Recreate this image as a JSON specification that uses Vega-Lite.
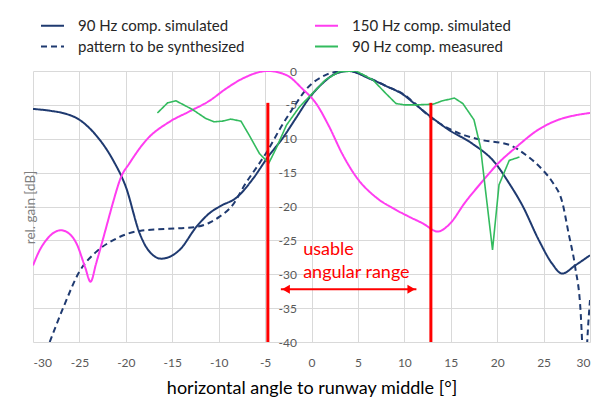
{
  "$schema": "https://vega.github.io/schema/vega-lite/v6.json",
  "width": 557,
  "height": 271,
  "autosize": "none",
  "padding": {"left": 33, "top": 71, "right": 13, "bottom": 58},
  "background": "white",
  "config": {
    "view": {"stroke": null},
    "font": "Lato"
  },
  "datasets": {
    "curves": [
      {"series": "90 Hz comp. simulated", "x": -30, "y": -5.6},
      {"series": "90 Hz comp. simulated", "x": -28, "y": -5.9},
      {"series": "90 Hz comp. simulated", "x": -26.8, "y": -6.2},
      {"series": "90 Hz comp. simulated", "x": -25, "y": -7.2},
      {"series": "90 Hz comp. simulated", "x": -23.2, "y": -9.5},
      {"series": "90 Hz comp. simulated", "x": -21.4, "y": -13.1},
      {"series": "90 Hz comp. simulated", "x": -20, "y": -17.1},
      {"series": "90 Hz comp. simulated", "x": -18.5, "y": -24},
      {"series": "90 Hz comp. simulated", "x": -17.8, "y": -26},
      {"series": "90 Hz comp. simulated", "x": -16.2, "y": -27.7},
      {"series": "90 Hz comp. simulated", "x": -14.2, "y": -26.4},
      {"series": "90 Hz comp. simulated", "x": -12.4, "y": -23},
      {"series": "90 Hz comp. simulated", "x": -11, "y": -21},
      {"series": "90 Hz comp. simulated", "x": -9.9, "y": -20},
      {"series": "90 Hz comp. simulated", "x": -8, "y": -18.6},
      {"series": "90 Hz comp. simulated", "x": -6.3, "y": -15.9},
      {"series": "90 Hz comp. simulated", "x": -4.7, "y": -12.7},
      {"series": "90 Hz comp. simulated", "x": -3.1, "y": -9.9},
      {"series": "90 Hz comp. simulated", "x": -1.7, "y": -7},
      {"series": "90 Hz comp. simulated", "x": -0.25, "y": -4},
      {"series": "90 Hz comp. simulated", "x": 1.2, "y": -1.8},
      {"series": "90 Hz comp. simulated", "x": 2.6, "y": -0.4},
      {"series": "90 Hz comp. simulated", "x": 4, "y": 0},
      {"series": "90 Hz comp. simulated", "x": 6.2, "y": -1.1},
      {"series": "90 Hz comp. simulated", "x": 8, "y": -2.2},
      {"series": "90 Hz comp. simulated", "x": 10, "y": -3.6},
      {"series": "90 Hz comp. simulated", "x": 10.9, "y": -4.6},
      {"series": "90 Hz comp. simulated", "x": 12.8, "y": -6.7},
      {"series": "90 Hz comp. simulated", "x": 14.8, "y": -8.7},
      {"series": "90 Hz comp. simulated", "x": 17.3, "y": -10.7},
      {"series": "90 Hz comp. simulated", "x": 19.8, "y": -13.6},
      {"series": "90 Hz comp. simulated", "x": 21.3, "y": -16.6},
      {"series": "90 Hz comp. simulated", "x": 22.7, "y": -19.8},
      {"series": "90 Hz comp. simulated", "x": 24.5, "y": -25},
      {"series": "90 Hz comp. simulated", "x": 25.9, "y": -28.4},
      {"series": "90 Hz comp. simulated", "x": 27, "y": -29.9},
      {"series": "90 Hz comp. simulated", "x": 28.4, "y": -28.7},
      {"series": "90 Hz comp. simulated", "x": 30, "y": -27.2},

      {"series": "pattern to be synthesized", "x": -28.2, "y": -40},
      {"series": "pattern to be synthesized", "x": -26.7, "y": -34.8},
      {"series": "pattern to be synthesized", "x": -25, "y": -29.6},
      {"series": "pattern to be synthesized", "x": -23.2, "y": -26.7},
      {"series": "pattern to be synthesized", "x": -21.4, "y": -25},
      {"series": "pattern to be synthesized", "x": -18.5, "y": -23.6},
      {"series": "pattern to be synthesized", "x": -14.2, "y": -23.2},
      {"series": "pattern to be synthesized", "x": -12.4, "y": -23},
      {"series": "pattern to be synthesized", "x": -11, "y": -22.4},
      {"series": "pattern to be synthesized", "x": -9.9, "y": -21.5},
      {"series": "pattern to be synthesized", "x": -8.5, "y": -19.8},
      {"series": "pattern to be synthesized", "x": -7.1, "y": -16.6},
      {"series": "pattern to be synthesized", "x": -5.6, "y": -13.6},
      {"series": "pattern to be synthesized", "x": -4.7, "y": -11.7},
      {"series": "pattern to be synthesized", "x": -3.3, "y": -8.3},
      {"series": "pattern to be synthesized", "x": -2, "y": -5.5},
      {"series": "pattern to be synthesized", "x": -0.5, "y": -2.6},
      {"series": "pattern to be synthesized", "x": 1.5, "y": -0.6},
      {"series": "pattern to be synthesized", "x": 2.8, "y": -0.1},
      {"series": "pattern to be synthesized", "x": 4, "y": 0},
      {"series": "pattern to be synthesized", "x": 6.2, "y": -1},
      {"series": "pattern to be synthesized", "x": 8, "y": -2.2},
      {"series": "pattern to be synthesized", "x": 10, "y": -3.5},
      {"series": "pattern to be synthesized", "x": 11, "y": -4.6},
      {"series": "pattern to be synthesized", "x": 12.8, "y": -6.8},
      {"series": "pattern to be synthesized", "x": 14.8, "y": -8.5},
      {"series": "pattern to be synthesized", "x": 16.5, "y": -9.5},
      {"series": "pattern to be synthesized", "x": 18.4, "y": -10.2},
      {"series": "pattern to be synthesized", "x": 21.3, "y": -10.9},
      {"series": "pattern to be synthesized", "x": 23.1, "y": -12.4},
      {"series": "pattern to be synthesized", "x": 24.9, "y": -14.6},
      {"series": "pattern to be synthesized", "x": 26, "y": -16.5},
      {"series": "pattern to be synthesized", "x": 27, "y": -19.3},
      {"series": "pattern to be synthesized", "x": 27.7, "y": -24},
      {"series": "pattern to be synthesized", "x": 28.4, "y": -28.9},
      {"series": "pattern to be synthesized", "x": 29, "y": -35.8},
      {"series": "pattern to be synthesized", "x": 29.15, "y": -40},
      {"series": "pattern to be synthesized", "x": 29.4, "y": -50},
      {"series": "pattern to be synthesized", "x": 29.7, "y": -40},
      {"series": "pattern to be synthesized", "x": 30, "y": -33.8},

      {"series": "150 Hz comp. simulated", "x": -30, "y": -28.7},
      {"series": "150 Hz comp. simulated", "x": -29.3, "y": -26.5},
      {"series": "150 Hz comp. simulated", "x": -28.6, "y": -25},
      {"series": "150 Hz comp. simulated", "x": -27.8, "y": -23.9},
      {"series": "150 Hz comp. simulated", "x": -27, "y": -23.5},
      {"series": "150 Hz comp. simulated", "x": -26.2, "y": -23.9},
      {"series": "150 Hz comp. simulated", "x": -25.3, "y": -25.5},
      {"series": "150 Hz comp. simulated", "x": -24.4, "y": -28.9},
      {"series": "150 Hz comp. simulated", "x": -23.8, "y": -31.1},
      {"series": "150 Hz comp. simulated", "x": -23.2, "y": -28.4},
      {"series": "150 Hz comp. simulated", "x": -22.6, "y": -25.5},
      {"series": "150 Hz comp. simulated", "x": -21.9, "y": -22},
      {"series": "150 Hz comp. simulated", "x": -21.4, "y": -19.5},
      {"series": "150 Hz comp. simulated", "x": -20.5, "y": -15.6},
      {"series": "150 Hz comp. simulated", "x": -19.6, "y": -13.6},
      {"series": "150 Hz comp. simulated", "x": -17.8, "y": -10.2},
      {"series": "150 Hz comp. simulated", "x": -15.3, "y": -7.5},
      {"series": "150 Hz comp. simulated", "x": -13.2, "y": -6},
      {"series": "150 Hz comp. simulated", "x": -11, "y": -4.4},
      {"series": "150 Hz comp. simulated", "x": -9.2, "y": -2.6},
      {"series": "150 Hz comp. simulated", "x": -7.4, "y": -1.1},
      {"series": "150 Hz comp. simulated", "x": -4.7, "y": 0},
      {"series": "150 Hz comp. simulated", "x": -2.7, "y": -0.6},
      {"series": "150 Hz comp. simulated", "x": -1, "y": -2.6},
      {"series": "150 Hz comp. simulated", "x": 0.5, "y": -4.8},
      {"series": "150 Hz comp. simulated", "x": 1.9, "y": -8.2},
      {"series": "150 Hz comp. simulated", "x": 3.3, "y": -12.2},
      {"series": "150 Hz comp. simulated", "x": 4.8, "y": -15.6},
      {"series": "150 Hz comp. simulated", "x": 6.9, "y": -18.6},
      {"series": "150 Hz comp. simulated", "x": 9.1, "y": -20.5},
      {"series": "150 Hz comp. simulated", "x": 10.5, "y": -21.5},
      {"series": "150 Hz comp. simulated", "x": 12, "y": -22.5},
      {"series": "150 Hz comp. simulated", "x": 13.6, "y": -23.7},
      {"series": "150 Hz comp. simulated", "x": 14.8, "y": -22.7},
      {"series": "150 Hz comp. simulated", "x": 16.6, "y": -19.3},
      {"series": "150 Hz comp. simulated", "x": 18.4, "y": -16.3},
      {"series": "150 Hz comp. simulated", "x": 20.2, "y": -13.5},
      {"series": "150 Hz comp. simulated", "x": 22, "y": -11.3},
      {"series": "150 Hz comp. simulated", "x": 24.5, "y": -8.6},
      {"series": "150 Hz comp. simulated", "x": 26.6, "y": -7.2},
      {"series": "150 Hz comp. simulated", "x": 28.2, "y": -6.6},
      {"series": "150 Hz comp. simulated", "x": 30, "y": -6.2},

      {"series": "90 Hz comp. measured", "x": -16.6, "y": -6.2},
      {"series": "90 Hz comp. measured", "x": -15.5, "y": -4.7},
      {"series": "90 Hz comp. measured", "x": -14.6, "y": -4.4},
      {"series": "90 Hz comp. measured", "x": -12.8, "y": -5.7},
      {"series": "90 Hz comp. measured", "x": -11.4, "y": -7},
      {"series": "90 Hz comp. measured", "x": -10.5, "y": -7.5},
      {"series": "90 Hz comp. measured", "x": -9.6, "y": -7.4},
      {"series": "90 Hz comp. measured", "x": -8.7, "y": -7.1},
      {"series": "90 Hz comp. measured", "x": -7.6, "y": -7.4},
      {"series": "90 Hz comp. measured", "x": -6.7, "y": -9.5},
      {"series": "90 Hz comp. measured", "x": -5.6, "y": -12.2},
      {"series": "90 Hz comp. measured", "x": -4.6, "y": -13.6},
      {"series": "90 Hz comp. measured", "x": -3.8, "y": -11.4},
      {"series": "90 Hz comp. measured", "x": -2.7, "y": -8},
      {"series": "90 Hz comp. measured", "x": -1.3, "y": -5.3},
      {"series": "90 Hz comp. measured", "x": 0.1, "y": -3.3},
      {"series": "90 Hz comp. measured", "x": 1.5, "y": -1.3},
      {"series": "90 Hz comp. measured", "x": 3, "y": -0.1},
      {"series": "90 Hz comp. measured", "x": 4.8, "y": 0},
      {"series": "90 Hz comp. measured", "x": 6.6, "y": -1.3},
      {"series": "90 Hz comp. measured", "x": 8, "y": -3.3},
      {"series": "90 Hz comp. measured", "x": 9.1, "y": -4.8},
      {"series": "90 Hz comp. measured", "x": 10, "y": -5},
      {"series": "90 Hz comp. measured", "x": 11.3, "y": -5},
      {"series": "90 Hz comp. measured", "x": 13.1, "y": -4.9},
      {"series": "90 Hz comp. measured", "x": 14.1, "y": -4.4},
      {"series": "90 Hz comp. measured", "x": 15.4, "y": -4},
      {"series": "90 Hz comp. measured", "x": 16.3, "y": -4.8},
      {"series": "90 Hz comp. measured", "x": 17.5, "y": -7.2},
      {"series": "90 Hz comp. measured", "x": 18.2, "y": -11.2},
      {"series": "90 Hz comp. measured", "x": 18.7, "y": -17.1},
      {"series": "90 Hz comp. measured", "x": 19.5, "y": -26.4},
      {"series": "90 Hz comp. measured", "x": 20.2, "y": -16.8},
      {"series": "90 Hz comp. measured", "x": 21.3, "y": -13.2},
      {"series": "90 Hz comp. measured", "x": 22.4, "y": -12.7}
    ],
    "limits": [
      {"angle": -4.7, "top": -4.7, "bottom": -40},
      {"angle": 12.86, "top": -4.7, "bottom": -40}
    ],
    "arrow": [{"from": -3.3, "to": 11.3, "level": -32.2}],
    "arrowLeft": [{"x": -2.75, "y": -32.2}],
    "arrowRight": [{"x": 10.75, "y": -32.2}],
    "notes": [
      {"x": -0.9, "y": -27.2, "text": "usable"},
      {"x": -0.9, "y": -30.5, "text": "angular range"}
    ]
  },
  "layer": [
    {
      "data": {"name": "curves"},
      "mark": {"type": "line", "interpolate": "monotone", "strokeWidth": 2, "clip": true},
      "transform": [{"filter": "datum.series != '90 Hz comp. measured'"}],
      "encoding": {
        "x": {
          "field": "x", "type": "quantitative",
          "scale": {"domain": [-30, 30], "nice": false},
          "axis": {
            "values": [-30, -25, -20, -15, -10, -5, 0, 5, 10, 15, 20, 25, 30],
            "tickCount": 20,
            "labelExpr": "'' + datum.value", "labelOverlap": false,
            "grid": true, "gridColor": "#D9D9D9", "gridWidth": 1,
            "domain": false, "ticks": false,
            "labelColor": "#595959", "labelFont": "Lato", "labelFontSize": 12, "labelPadding": 15,
            "title": "horizontal angle to runway middle [°]",
            "titleFont": "Lato", "titleFontSize": 18, "titleFontWeight": "normal", "titleColor": "#000000",
            "titlePadding": 11
          }
        },
        "y": {
          "field": "y", "type": "quantitative",
          "scale": {"domain": [-40, 0], "nice": false},
          "axis": {
            "orient": "left", "offset": -278.5,
            "values": [-40, -35, -30, -25, -20, -15, -10, -5, 0],
            "tickCount": 20,
            "labelExpr": "'' + datum.value", "labelOverlap": false,
            "grid": true, "gridColor": "#D9D9D9", "gridWidth": 1,
            "domain": false, "ticks": false,
            "labelColor": "#595959", "labelFont": "Lato", "labelFontSize": 12, "labelPadding": 15,
            "title": "rel. gain [dB]",
            "titleFont": "Lato", "titleFontSize": 13.5, "titleFontWeight": "normal", "titleColor": "#7F7F7F",
            "titleX": -281, "titleY": 136, "titleAngle": -90, "titleAlign": "center", "titleBaseline": "middle"
          }
        },
        "color": {
          "field": "series", "type": "nominal",
          "scale": {
            "domain": ["90 Hz comp. simulated", "pattern to be synthesized", "150 Hz comp. simulated", "90 Hz comp. measured"],
            "range": ["#1F3A70", "#1F3A70", "#FF3DF0", "#33BB5E"]
          },
          "legend": {
            "orient": "none", "legendX": 7, "legendY": -58, "columns": 2, "title": null,
            "symbolType": "stroke", "symbolSize": 529, "symbolStrokeWidth": 2,
            "labelFont": "Lato", "labelFontSize": 15, "labelColor": "#262626", "labelOffset": 13,
            "columnPadding": 66, "rowPadding": 0, "labelLimit": 300
          }
        },
        "strokeDash": {
          "field": "series", "type": "nominal",
          "scale": {
            "domain": ["90 Hz comp. simulated", "pattern to be synthesized", "150 Hz comp. simulated", "90 Hz comp. measured"],
            "range": [[1, 0], [6, 4], [1, 0], [1, 0]]
          },
          "legend": {
            "orient": "none", "legendX": 7, "legendY": -58, "columns": 2, "title": null,
            "symbolType": "stroke", "symbolSize": 529, "symbolStrokeWidth": 2,
            "labelFont": "Lato", "labelFontSize": 15, "labelColor": "#262626", "labelOffset": 13,
            "columnPadding": 66, "rowPadding": 0, "labelLimit": 300
          }
        }
      }
    },
    {
      "data": {"name": "curves"},
      "mark": {"type": "line", "strokeWidth": 1.6, "clip": true},
      "transform": [{"filter": "datum.series == '90 Hz comp. measured'"}],
      "encoding": {
        "x": {"field": "x", "type": "quantitative"},
        "y": {"field": "y", "type": "quantitative"},
        "color": {"field": "series", "type": "nominal"},
        "strokeDash": {"field": "series", "type": "nominal"}
      }
    },
    {
      "data": {"name": "limits"},
      "mark": {"type": "rule", "color": "#FF0000", "strokeWidth": 3},
      "encoding": {
        "x": {"field": "angle", "type": "quantitative"},
        "y": {"field": "top", "type": "quantitative"},
        "y2": {"field": "bottom"}
      }
    },
    {
      "data": {"name": "arrow"},
      "mark": {"type": "rule", "color": "#FF0000", "strokeWidth": 2},
      "encoding": {
        "x": {"field": "from", "type": "quantitative"},
        "x2": {"field": "to"},
        "y": {"field": "level", "type": "quantitative"}
      }
    },
    {
      "data": {"name": "arrowLeft"},
      "mark": {"type": "point", "shape": "triangle-left", "filled": true, "color": "#FF0000", "size": 80, "opacity": 1},
      "encoding": {
        "x": {"field": "x", "type": "quantitative"},
        "y": {"field": "y", "type": "quantitative"}
      }
    },
    {
      "data": {"name": "arrowRight"},
      "mark": {"type": "point", "shape": "triangle-right", "filled": true, "color": "#FF0000", "size": 80, "opacity": 1},
      "encoding": {
        "x": {"field": "x", "type": "quantitative"},
        "y": {"field": "y", "type": "quantitative"}
      }
    },
    {
      "data": {"name": "notes"},
      "mark": {"type": "text", "color": "#FF0000", "font": "Lato", "fontSize": 18, "align": "left", "baseline": "alphabetic"},
      "encoding": {
        "x": {"field": "x", "type": "quantitative"},
        "y": {"field": "y", "type": "quantitative"},
        "text": {"field": "text"}
      }
    }
  ]
}
